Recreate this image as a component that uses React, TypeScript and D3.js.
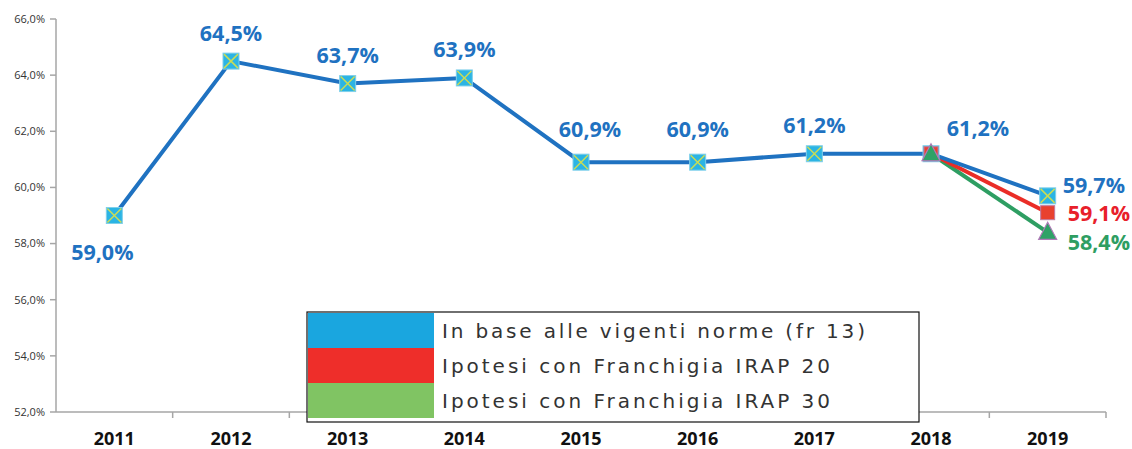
import React from "react";
import * as d3 from "d3";

// values
const years = ["2011", "2012", "2013", "2014", "2015", "2016", "2017", "2018", "2019"];
const base = [59.0, 64.5, 63.7, 63.9, 60.9, 60.9, 61.2, 61.2, 59.7];
const irap20 = [{ year: "2018", v: 61.2 }, { year: "2019", v: 59.1 }];
const irap30 = [{ year: "2018", v: 61.2 }, { year: "2019", v: 58.4 }];
const yTicks = [52, 54, 56, 58, 60, 62, 64, 66];
const legendItems = [
	{ label: "In base alle vigenti norme (fr 13)", color: "#1aa6df" },
	{ label: "Ipotesi con Franchigia IRAP 20", color: "#ee2e2a" },
	{ label: "Ipotesi con Franchigia IRAP 30", color: "#80c463" },
];

const W = 1132;
const H = 449;
const margin = { top: 19, right: 26, bottom: 37, left: 56 };

const fmt = (v: number) => v.toFixed(1).replace(".", ",") + "%";

const App: React.FC = () => {
	const x = d3
		.scaleBand<string>()
		.domain(years)
		.range([margin.left, W - margin.right]);
	const y = d3
		.scaleLinear()
		.domain([52, 66])
		.range([H - margin.bottom, margin.top]);
	const cx = (yr: string) => (x(yr) as number) + x.bandwidth() / 2;

	const baseData = years.map((yr, i) => ({ year: yr, v: base[i] }));
	const line = d3
		.line<{ year: string; v: number }>()
		.x((d) => cx(d.year))
		.y((d) => y(d.v));

	const blue = "#1f72c1";
	const labelFont = "'Open Sans', sans-serif";

	// label placement relative to the point: [dx, dy, anchor]
	const labelOffset = (i: number): [number, number, string] => {
		if (i === 0) return [-12, 37, "middle"];
		if (i === 4) return [9, -33, "middle"];
		if (i === 5) return [0, -33, "middle"];
		if (i === 7) return [47, -25, "middle"];
		if (i === 8) return [15, -10, "start"];
		return [0, -28, "middle"];
	};

	const squareMarker = (px: number, py: number, key: string) => (
		<g key={key} transform={`translate(${px},${py})`}>
			<rect x={-8} y={-8} width={16} height={16} fill="#2bb4e4" stroke="#7fd0ea" strokeWidth={1} />
			<line x1={-7} y1={-7} x2={7} y2={7} stroke="#c9dc55" strokeWidth={1.5} />
			<line x1={-7} y1={7} x2={7} y2={-7} stroke="#c9dc55" strokeWidth={1.5} />
		</g>
	);
	const redMarker = (px: number, py: number, key: string) => (
		<rect key={key} x={px - 7} y={py - 7} width={14} height={14} fill="#e8412f" stroke="#c07aa0" strokeWidth={1} />
	);
	const triMarker = (px: number, py: number, key: string) => (
		<path
			key={key}
			d={`M${px},${py - 10}L${px + 9},${py + 7}L${px - 9},${py + 7}Z`}
			fill="#2ea266"
			stroke="#b07ab8"
			strokeWidth={1.2}
		/>
	);

	const axisY = H - margin.bottom;
	const legend = { x: 307, y: 312, w: 612, h: 110, sw: 126 };
	const rowH = 35;
	const legendTextLen = [423, 388, 388];

	return (
		<div style={{ position: "absolute", left: 0, top: 0 }}>
			<svg width={W} height={H} style={{ display: "block", background: "#fff" }}>
				{/* y axis */}
				<line x1={margin.left} y1={margin.top} x2={margin.left} y2={axisY} stroke="#a6a6a6" strokeWidth={1.5} />
				{yTicks.map((t) => (
					<g key={t}>
						<line x1={margin.left - 6} y1={y(t)} x2={margin.left} y2={y(t)} stroke="#a6a6a6" strokeWidth={1.5} />
						<text
							x={margin.left - 11}
							y={y(t)}
							dy="0.35em"
							textAnchor="end"
							fontFamily={labelFont}
							fontSize={11}
							fill="#333"
						>
							{fmt(t)}
						</text>
					</g>
				))}

				{/* x axis */}
				<line x1={margin.left} y1={axisY} x2={W - margin.right} y2={axisY} stroke="#a6a6a6" strokeWidth={1.5} />
				{years.map((yr) => (
					<line
						key={"t" + yr}
						x1={(x(yr) as number) + x.bandwidth()}
						y1={axisY}
						x2={(x(yr) as number) + x.bandwidth()}
						y2={axisY + 6}
						stroke="#a6a6a6"
						strokeWidth={1.5}
					/>
				))}
				{years.map((yr) => (
					<text
						key={"l" + yr}
						x={cx(yr)}
						y={axisY + 27}
						dy="0.35em"
						textAnchor="middle"
						fontFamily={labelFont}
						fontWeight="bold"
						fontSize={18}
						fill="#111"
					>
						{yr}
					</text>
				))}

				{/* lines */}
				<path d={line(irap30) || ""} fill="none" stroke="#2e9e62" strokeWidth={4} />
				<path d={line(irap20) || ""} fill="none" stroke="#ea2d27" strokeWidth={4} />
				<path d={line(baseData) || ""} fill="none" stroke={blue} strokeWidth={4} />

				{/* markers */}
				{baseData.map((d) => squareMarker(cx(d.year), y(d.v), "m" + d.year))}
				{irap20.map((d) => redMarker(cx(d.year), y(d.v), "r" + d.year))}
				{irap30.map((d) => triMarker(cx(d.year), y(d.v), "g" + d.year))}

				{/* data labels */}
				{baseData.map((d, i) => {
					const [dx, dy, anchor] = labelOffset(i);
					return (
						<text
							key={"d" + d.year}
							x={cx(d.year) + dx}
							y={y(d.v) + dy}
							dy="0.35em"
							textAnchor={anchor}
							fontFamily={labelFont}
							fontWeight="bold"
							fontSize={21.5}
							fill={blue}
						>
							{fmt(d.v)}
						</text>
					);
				})}
				<text
					x={cx("2019") + 20}
					y={y(irap20[1].v) + 1}
					dy="0.35em"
					fontFamily={labelFont}
					fontWeight="bold"
					fontSize={21.5}
					fill="#e8202a"
				>
					{fmt(irap20[1].v)}
				</text>
				<text
					x={cx("2019") + 20}
					y={y(irap30[1].v) + 10}
					dy="0.35em"
					fontFamily={labelFont}
					fontWeight="bold"
					fontSize={21.5}
					fill="#2e9e62"
				>
					{fmt(irap30[1].v)}
				</text>

				{/* legend */}
				<rect x={legend.x} y={legend.y} width={legend.w} height={legend.h} fill="#fff" stroke="#111" strokeWidth={1.2} />
				{legendItems.map((it, i) => (
					<g key={it.label}>
						<rect x={legend.x + 1} y={legend.y + 1 + i * rowH} width={legend.sw} height={rowH} fill={it.color} />
						<text
							x={legend.x + legend.sw + 9}
							y={legend.y + 1 + i * rowH + rowH / 2}
							dy="0.35em"
							fontFamily="'DejaVu Sans', sans-serif"
							fontSize={20}
							textLength={legendTextLen[i]}
							lengthAdjust="spacing"
							fill="#333"
						>
							{it.label}
						</text>
					</g>
				))}
			</svg>
		</div>
	);
};

export default App;
